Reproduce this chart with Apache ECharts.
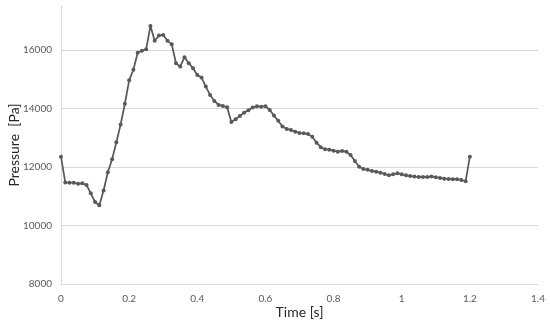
<!DOCTYPE html>
<html>
<head>
<meta charset="utf-8">
<script src="https://cdn.jsdelivr.net/npm/echarts@6/dist/echarts.min.js"></script>
<style>
  html, body { margin: 0; padding: 0; background: #fff; }
  #chart { width: 550px; height: 327px; }
</style>
</head>
<body>
<div id="chart"></div>
<script>
  // sample times [s]
  var times = [
    0, 0.0125, 0.025, 0.0375, 0.05, 0.0625, 0.075, 0.0875, 0.1, 0.1125,
    0.125, 0.1375, 0.15, 0.1625, 0.175, 0.1875, 0.2, 0.2125, 0.225, 0.2375,
    0.25, 0.2625, 0.275, 0.2875, 0.3, 0.3125, 0.325, 0.3375, 0.35, 0.3625,
    0.375, 0.3875, 0.4, 0.4125, 0.425, 0.4375, 0.45, 0.4625, 0.475, 0.4875,
    0.5, 0.5125, 0.525, 0.5375, 0.55, 0.5625, 0.575, 0.5875, 0.6, 0.6125,
    0.625, 0.6375, 0.65, 0.6625, 0.675, 0.6875, 0.7, 0.7125, 0.725, 0.7375,
    0.75, 0.7625, 0.775, 0.7875, 0.8, 0.8125, 0.825, 0.8375, 0.85, 0.8625,
    0.875, 0.8875, 0.9, 0.9125, 0.925, 0.9375, 0.95, 0.9625, 0.975, 0.9875,
    1, 1.0125, 1.025, 1.0375, 1.05, 1.0625, 1.075, 1.0875, 1.1, 1.1125,
    1.125, 1.1375, 1.15, 1.1625, 1.175, 1.1875, 1.2
  ];
  // pressure [Pa]
  var pressure = [
    12350, 11470, 11460, 11460, 11425, 11440, 11380, 11100, 10800, 10690,
    11195, 11820, 12260, 12845, 13450, 14160, 14960, 15320, 15900, 15970,
    16025, 16820, 16310, 16490, 16510, 16310, 16195, 15545, 15430, 15750,
    15545, 15375, 15145, 15055, 14745, 14460, 14255, 14120, 14085, 14040,
    13540, 13630, 13745, 13855, 13940, 14030, 14075, 14060, 14075, 13950,
    13755, 13580, 13380, 13300, 13265, 13205, 13160, 13150, 13130, 13035,
    12830, 12675, 12605, 12590, 12555, 12520, 12545, 12520, 12410, 12205,
    12010, 11930, 11900, 11865, 11840, 11805, 11760, 11715, 11750, 11785,
    11750, 11715, 11690, 11670, 11660, 11660, 11660, 11670, 11650, 11625,
    11600, 11590, 11580, 11580, 11555, 11510, 12350
  ];

  var points = times.map(function (t, i) { return [t, pressure[i]]; });

  var chart = echarts.init(document.getElementById('chart'));
  var option = {
    animation: false,
    textStyle: { fontFamily: 'Lato' },
    grid: { left: 61, right: 12, top: 6, bottom: 43, containLabel: false, outerBoundsMode: 'none' },
    xAxis: {
      type: 'value',
      min: 0, max: 1.4, interval: 0.2,
      name: 'Time [s]',
      nameLocation: 'middle',
      nameGap: 21,
      nameMoveOverlap: false,
      nameTextStyle: { fontSize: 14, color: '#262626' },
      axisLine: { show: true, lineStyle: { color: '#d9d9d9', width: 1 } },
      axisTick: { show: false },
      splitLine: { show: false },
      axisLabel: { fontSize: 10, color: '#595959', margin: 10 }
    },
    yAxis: {
      type: 'value',
      min: 8000, max: 17500, interval: 2000,
      name: 'Pressure  [Pa]',
      nameLocation: 'middle',
      nameGap: 40,
      nameMoveOverlap: false,
      nameTextStyle: { fontSize: 14, color: '#262626' },
      axisLine: { show: true, lineStyle: { color: '#d9d9d9', width: 1 } },
      axisTick: { show: false },
      splitLine: { show: true, showMaxLine: false, lineStyle: { color: '#d9d9d9', width: 1 } },
      axisLabel: {
        fontSize: 10, color: '#595959', margin: 9, showMaxLabel: false,
        formatter: function (v) { return String(v); }
      }
    },
    series: [{
      type: 'line',
      data: points,
      symbol: 'circle',
      symbolSize: 4,
      lineStyle: { color: '#595959', width: 1.75 },
      itemStyle: { color: '#595959' }
    }]
  };
  chart.setOption(option);
</script>
</body>
</html>
